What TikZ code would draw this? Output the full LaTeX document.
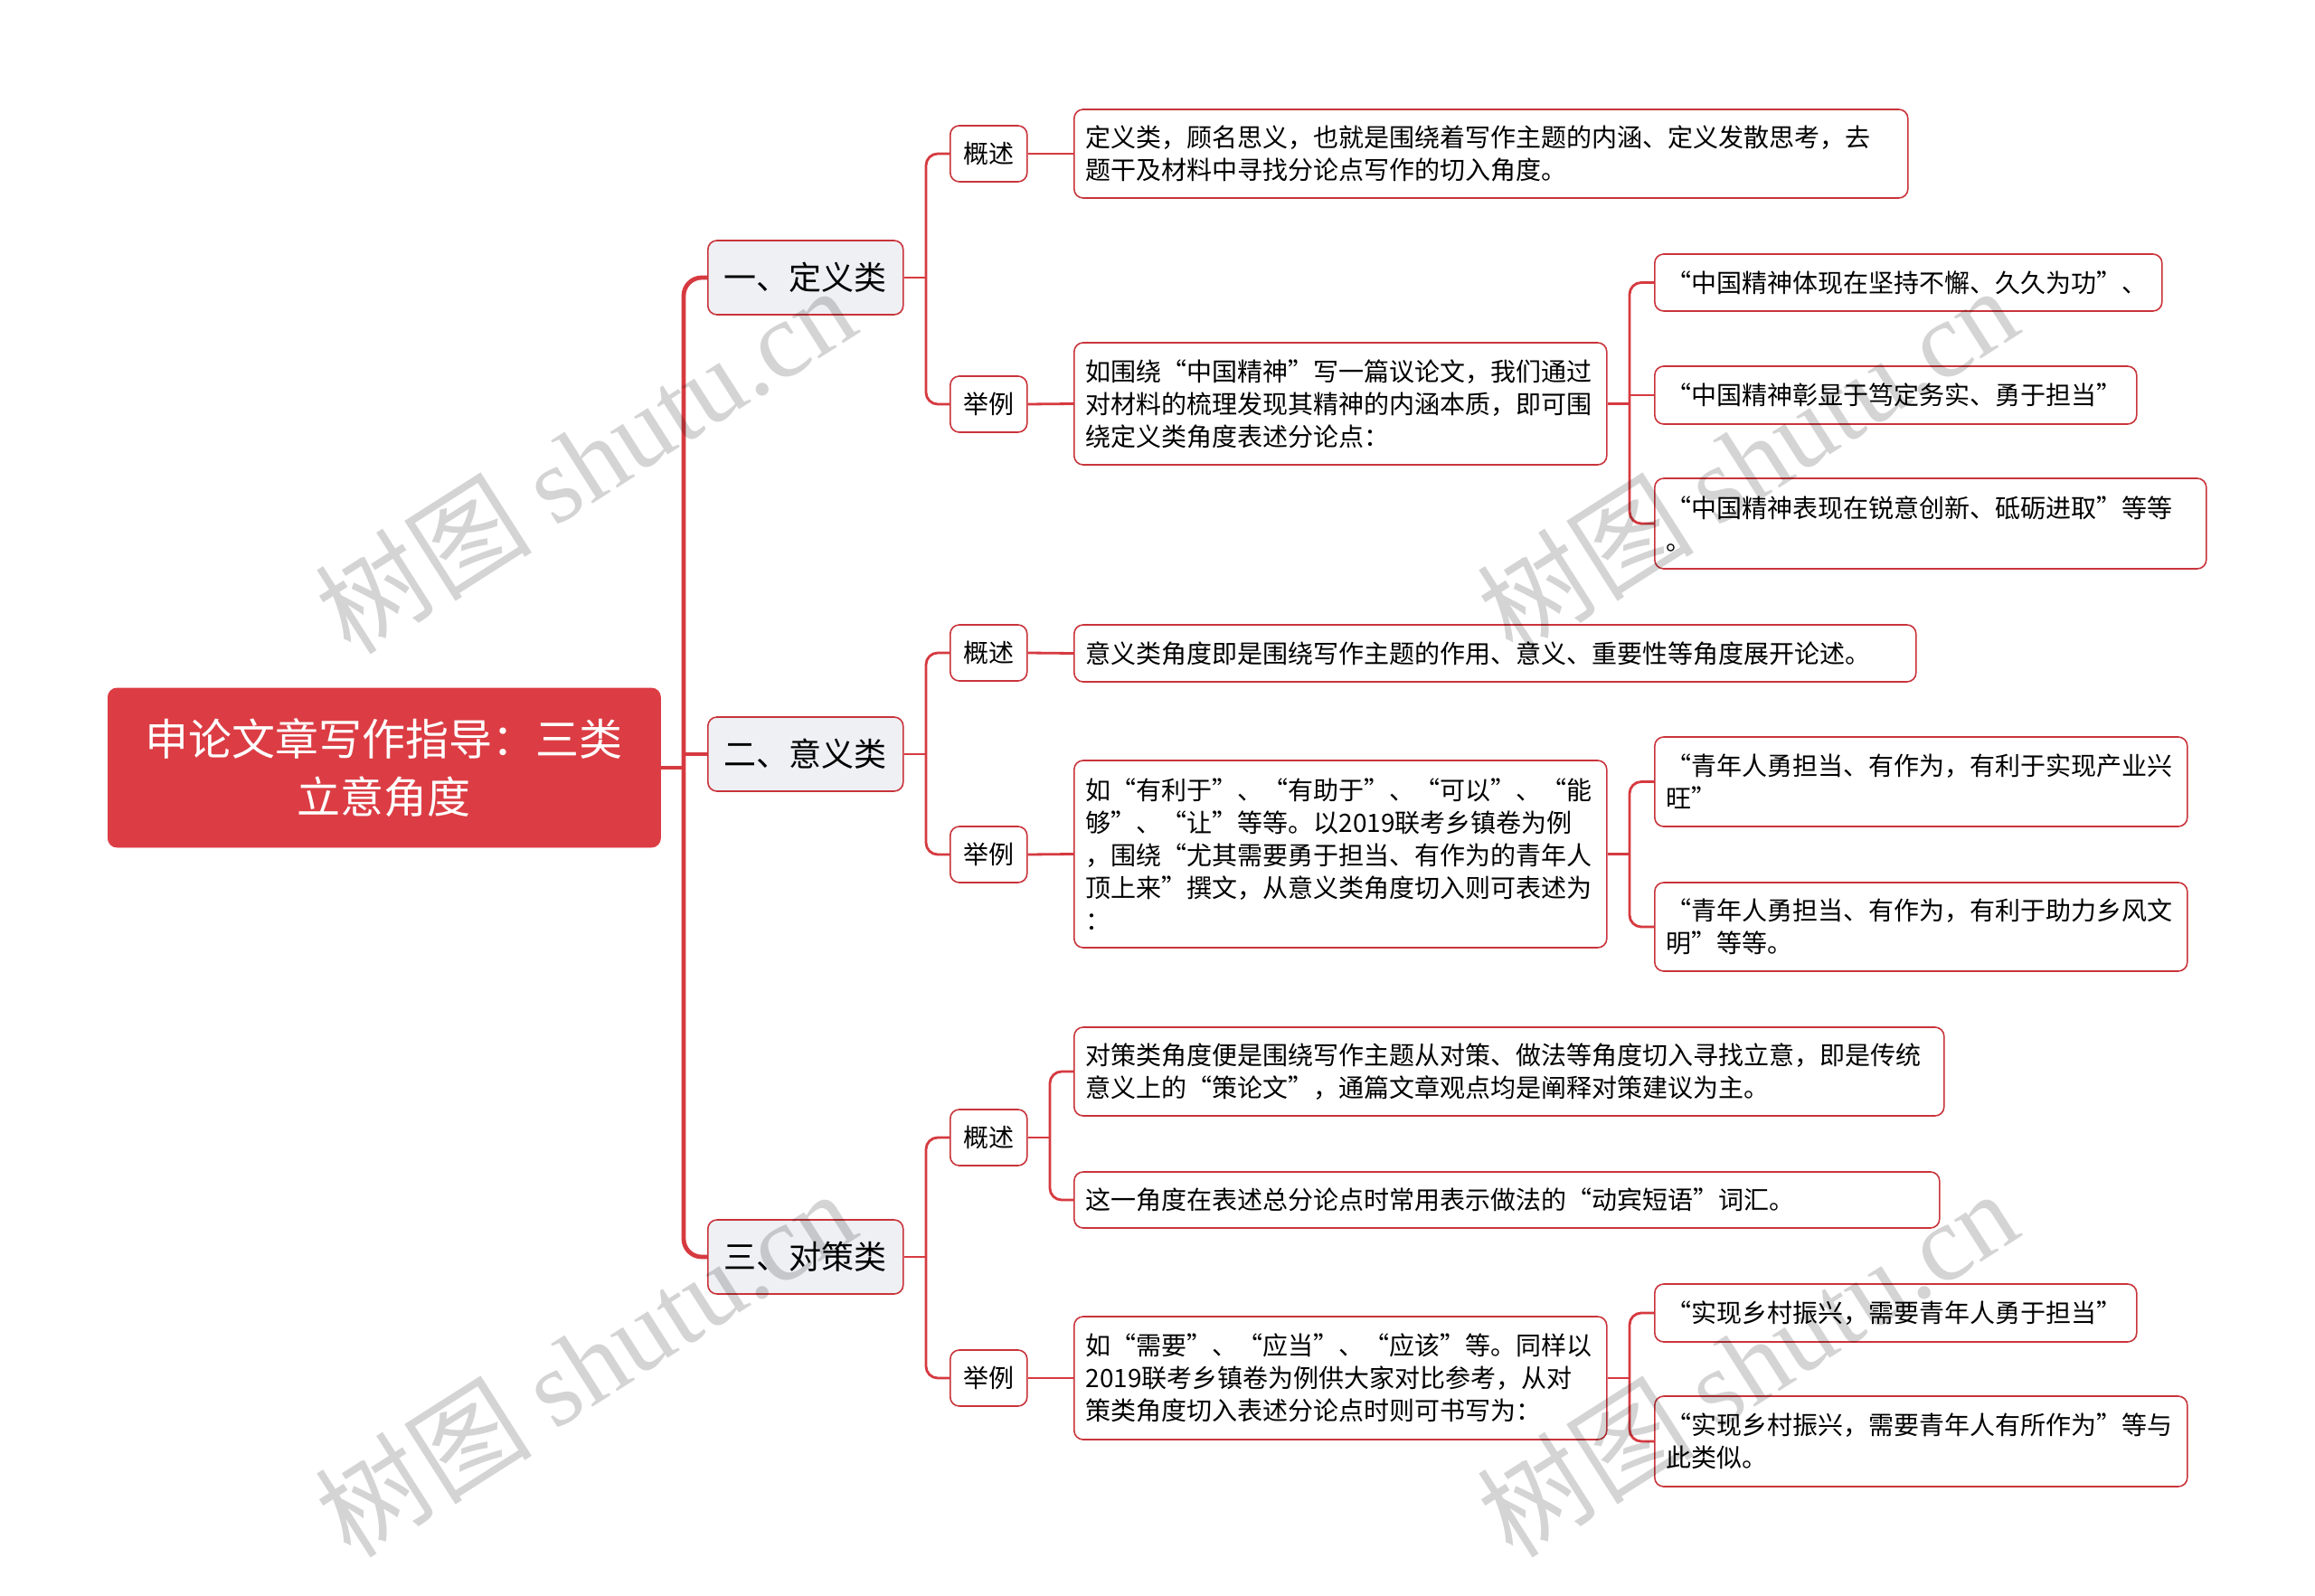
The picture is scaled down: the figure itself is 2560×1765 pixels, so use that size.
\documentclass[tikz,border=0pt]{standalone}
\usepackage{fontspec}
\setmainfont{Noto Sans CJK SC}
\newfontfamily\wmfont{Liberation Serif}
\definecolor{rootred}{HTML}{DC3D44}
\definecolor{linered}{HTML}{D63A40}
\definecolor{boxred}{HTML}{C9343B}
\definecolor{catgray}{HTML}{EEF0F4}
\tikzset{
  rootbox/.style={fill=rootred, draw=rootred, rounded corners=5pt, text=white,
    align=center, text width=290pt, minimum width=305.5pt, minimum height=88pt,
    inner sep=0pt, anchor=west, font=\fontsize{24}{32}\selectfont},
  catbox/.style={fill=catgray, draw=boxred, line width=0.8pt, rounded corners=5pt,
    minimum width=108pt, minimum height=41pt, inner sep=0pt, anchor=west,
    font=\fontsize{18}{22}\selectfont},
  tagbox/.style={fill=white, draw=boxred, line width=0.8pt, rounded corners=5pt,
    minimum width=42.5pt, minimum height=31pt, inner sep=0pt, anchor=west,
    font=\fontsize{14}{18}\selectfont},
  leafbox/.style={fill=white, draw=boxred, line width=0.8pt, rounded corners=5pt,
    inner xsep=6.5pt, inner ysep=0pt, align=left, anchor=west,
    font=\fontsize{14}{18}\selectfont},
  mainlink/.style={draw=linered, line width=2.4pt, rounded corners=10pt},
  link/.style={draw=linered, line width=1.4pt, rounded corners=6.5pt},
  wmark/.style={text=black, text opacity=0.17, rotate=32.5,
    font=\fontsize{60}{60}\selectfont}
}
\begin{document}
\begin{tikzpicture}[x=0.5pt, y=-0.5pt]
\fill[white] (0,0) rectangle (2560,1765);

\node[rootbox] (root) at (119,849) {申论文章写作指导：三类\\立意角度};

\node[catbox] (cat1) at (782,307) {一、定义类};
\node[catbox] (cat2) at (782,834) {二、意义类};
\node[catbox] (cat3) at (782,1390) {三、对策类};

\node[tagbox] (tag1a) at (1050,170) {概述};
\node[tagbox] (tag1b) at (1050,447) {举例};
\node[tagbox] (tag2a) at (1050,722) {概述};
\node[tagbox] (tag2b) at (1050,945) {举例};
\node[tagbox] (tag3a) at (1050,1258) {概述};
\node[tagbox] (tag3b) at (1050,1524) {举例};

\node[leafbox, text width=448pt, minimum height=49pt] (A1) at (1187,170)
  {定义类，顾名思义，也就是围绕着写作主题的内涵、定义发散思考，去\\题干及材料中寻找分论点写作的切入角度。};
\node[leafbox, text width=281.5pt, minimum height=67.5pt] (B1) at (1187,446.5)
  {如围绕“中国精神”写一篇议论文，我们通过\\对材料的梳理发现其精神的内涵本质，即可围\\绕定义类角度表述分论点：};
\node[leafbox, text width=267.5pt, minimum height=31.5pt] (C1a) at (1829,312.5)
  {“中国精神体现在坚持不懈、久久为功”、};
\node[leafbox, text width=253.5pt, minimum height=32pt] (C1b) at (1829,437)
  {“中国精神彰显于笃定务实、勇于担当”};
\node[leafbox, text width=292pt, minimum height=50pt] (C1c) at (1829,579)
  {“中国精神表现在锐意创新、砥砺进取”等等\\。};

\node[leafbox, text width=452.5pt, minimum height=31.5pt] (A2) at (1187,722.5)
  {意义类角度即是围绕写作主题的作用、意义、重要性等角度展开论述。};
\node[leafbox, text width=281.5pt, minimum height=103.5pt] (B2) at (1187,944.5)
  {如“有利于”、“有助于”、“可以”、“能\\够”、“让”等等。以2019联考乡镇卷为例\\，围绕“尤其需要勇于担当、有作为的青年人\\顶上来”撰文，从意义类角度切入则可表述为\\：};
\node[leafbox, text width=281.5pt, minimum height=49.5pt] (C2a) at (1829,864.5)
  {“青年人勇担当、有作为，有利于实现产业兴\\旺”};
\node[leafbox, text width=281.5pt, minimum height=49pt] (C2b) at (1829,1025)
  {“青年人勇担当、有作为，有利于助力乡风文\\明”等等。};

\node[leafbox, text width=468pt, minimum height=49pt] (A3a) at (1187,1185)
  {对策类角度便是围绕写作主题从对策、做法等角度切入寻找立意，即是传统\\意义上的“策论文”，通篇文章观点均是阐释对策建议为主。};
\node[leafbox, text width=465.5pt, minimum height=31pt] (A3b) at (1187,1327)
  {这一角度在表述总分论点时常用表示做法的“动宾短语”词汇。};
\node[leafbox, text width=281.5pt, minimum height=68pt] (B3) at (1187,1524)
  {如“需要”、“应当”、“应该”等。同样以\\2019联考乡镇卷为例供大家对比参考，从对\\策类角度切入表述分论点时则可书写为：};
\node[leafbox, text width=253.5pt, minimum height=32pt] (C3a) at (1829,1452)
  {“实现乡村振兴，需要青年人勇于担当”};
\node[leafbox, text width=281.5pt, minimum height=50pt] (C3b) at (1829,1594)
  {“实现乡村振兴，需要青年人有所作为”等与\\此类似。};

\coordinate (j0) at (756,849);
\coordinate (j1) at (1024,307);
\coordinate (j2) at (1024,834);
\coordinate (j3) at (1024,1390);
\coordinate (jA3) at (1161,1258);
\coordinate (jB1) at (1802,446.5);
\coordinate (jB2) at (1802,944.5);
\coordinate (jB3) at (1802,1524);

\draw[mainlink] (root.east) -- (j0);
\draw[mainlink] (cat1.west) -| (j0) |- (cat3.west);
\draw[mainlink, sharp corners] (j0) |- (cat2.west);

\foreach \i in {1,2,3} {
  \draw[link] (cat\i.east) -- (j\i);
  \draw[link] (tag\i a.west) -| (j\i) |- (tag\i b.west);
}

\draw[link] (tag1a.east) -- (A1.west);
\draw[link] (tag1b.east) -- (B1.west);
\draw[link] (tag2a.east) -- (A2.west);
\draw[link] (tag2b.east) -- (B2.west);
\draw[link] (tag3a.east) -- (jA3);
\draw[link] (A3a.west) -| (jA3) |- (A3b.west);
\draw[link] (tag3b.east) -- (B3.west);

\draw[link] (B1.east) -- (jB1);
\draw[link] (C1a.west) -| (jB1) |- (C1c.west);
\draw[link, sharp corners] (jB1) |- (C1b.west);
\draw[link] (B2.east) -- (jB2);
\draw[link] (C2a.west) -| (jB2) |- (C2b.west);
\draw[link] (B3.east) -- (jB3);
\draw[link] (C3a.west) -| (jB3) |- (C3b.west);

\foreach \p [count=\i] in {{(647,508)}, {(1932,508)}, {(647,1507)}, {(1932,1507)}} {
  \node[wmark] (wm\i) at \p {树图 {\wmfont shutu.cn}};
}
\end{tikzpicture}
\end{document}
